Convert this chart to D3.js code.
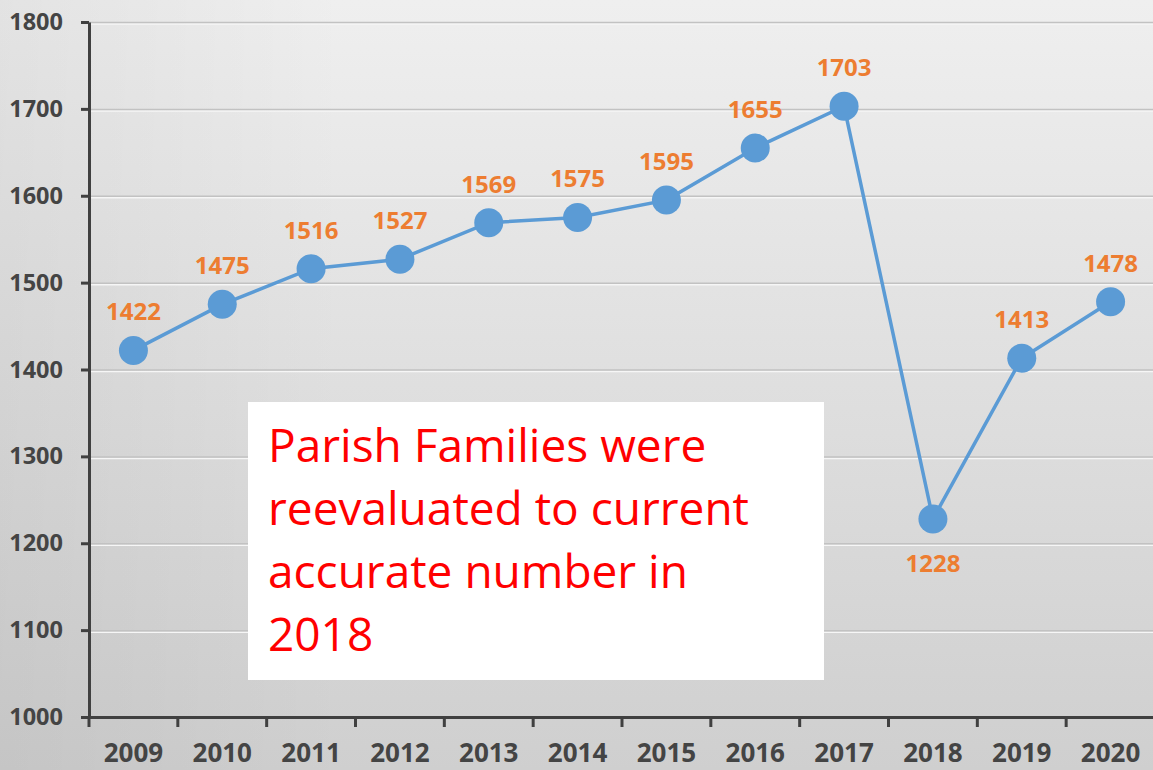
<!DOCTYPE html>
<html>
<head>
<meta charset="utf-8">
<script src="https://cdn.jsdelivr.net/npm/d3@7"></script>
<style>
  html, body { margin: 0; padding: 0; overflow: hidden; }
  svg { display: block; }
</style>
</head>
<body>
<div id="chart"></div>
<script>
const years = ["2009", "2010", "2011", "2012", "2013", "2014", "2015", "2016", "2017", "2018", "2019", "2020"];
const families = [1422, 1475, 1516, 1527, 1569, 1575, 1595, 1655, 1703, 1228, 1413, 1478];
const yTicks = [1000, 1100, 1200, 1300, 1400, 1500, 1600, 1700, 1800];
const noteLines = ["Parish Families were", "reevaluated to current", "accurate number in", "2018"];

const W = 1153, H = 770;
const svg = d3.select("#chart").append("svg").attr("width", W).attr("height", H);

// background gradient
const defs = svg.append("defs");
const grad = defs.append("linearGradient").attr("id", "bg").attr("x1", 0).attr("y1", 0).attr("x2", 0).attr("y2", 1);
grad.append("stop").attr("offset", "0%").attr("stop-color", "#efefef");
grad.append("stop").attr("offset", "100%").attr("stop-color", "#cfcfcf");
const side = defs.append("linearGradient").attr("id", "side").attr("x1", 0).attr("y1", 0).attr("x2", 1).attr("y2", 0);
side.append("stop").attr("offset", "0%").attr("stop-color", "#000").attr("stop-opacity", 0.05);
side.append("stop").attr("offset", "30%").attr("stop-color", "#000").attr("stop-opacity", 0);

svg.append("rect").attr("width", W).attr("height", H).attr("fill", "url(#bg)");
svg.append("rect").attr("width", W).attr("height", H).attr("fill", "url(#side)");

const x = d3.scaleBand().domain(years).range([89, 1155]);
const y = d3.scaleLinear().domain([1000, 1800]).range([717, 22]);

// gridlines
const yGrid = d3.axisLeft(y).tickValues(yTicks.slice(1)).tickSize(-(W - 89)).tickFormat("");
svg.append("g")
    .attr("transform", "translate(89, 1.5)")
    .call(yGrid)
    .call(g => g.select(".domain").remove())
    .call(g => g.selectAll("line").attr("stroke", "#f6f6f6").attr("stroke-width", 1.5));
svg.append("g")
    .attr("transform", "translate(89, 0)")
    .call(yGrid)
    .call(g => g.select(".domain").remove())
    .call(g => g.selectAll("line").attr("stroke", "#c2c2c2").attr("stroke-width", 1.5));

// y axis
svg.append("g")
    .attr("transform", "translate(89, 0)")
    .call(d3.axisLeft(y).tickValues(yTicks).tickFormat(d3.format("d")).tickSize(8).tickSizeOuter(0).tickPadding(18))
    .call(g => g.select(".domain").attr("stroke", "#404040").attr("stroke-width", 3))
    .call(g => g.selectAll("line").attr("stroke", "#404040").attr("stroke-width", 3))
    .call(g => g.selectAll("text")
        .attr("fill", "#444")
        .style("font-family", "'Open Sans', sans-serif")
        .style("font-weight", "bold")
        .style("font-size", "23.5px"));

// x axis
const xAxis = svg.append("g")
    .attr("transform", "translate(0, 717)")
    .call(d3.axisBottom(x).tickSize(0).tickSizeOuter(0).tickPadding(27))
    .call(g => g.select(".domain").attr("stroke", "#404040").attr("stroke-width", 3))
    .call(g => g.selectAll("text")
        .attr("fill", "#444")
        .style("font-family", "'Open Sans', sans-serif")
        .style("font-weight", "bold")
        .style("font-size", "26px"));
xAxis.selectAll(".sep")
    .data(years)
    .join("line")
    .attr("class", "sep")
    .attr("x1", d => x(d)).attr("x2", d => x(d))
    .attr("y1", 0).attr("y2", 10)
    .attr("stroke", "#404040").attr("stroke-width", 3);

// line + markers
const cx = (_, i) => x(years[i]) + x.bandwidth() / 2;
svg.append("path")
    .datum(families)
    .attr("fill", "none")
    .attr("stroke", "#5b9bd5")
    .attr("stroke-width", 3.5)
    .attr("d", d3.line().x(cx).y(d => y(d)));

svg.selectAll(".dot")
    .data(families)
    .join("circle")
    .attr("class", "dot")
    .attr("cx", cx)
    .attr("cy", d => y(d))
    .attr("r", 14.5)
    .attr("fill", "#5b9bd5");

svg.selectAll(".val")
    .data(families)
    .join("text")
    .attr("class", "val")
    .attr("x", cx)
    .attr("y", (d, i) => years[i] == "2018" ? y(d) + 53 : y(d) - 30)
    .attr("text-anchor", "middle")
    .attr("fill", "#ed7d31")
    .style("font-family", "'Open Sans', sans-serif")
    .style("font-weight", "bold")
    .style("font-size", "24px")
    .text(d => d);

// note box
svg.append("rect")
    .attr("x", 248).attr("y", 402)
    .attr("width", 576).attr("height", 278)
    .attr("fill", "#fff");

svg.selectAll(".note")
    .data(noteLines)
    .join("text")
    .attr("class", "note")
    .attr("x", 268)
    .attr("y", (_, i) => 462 + i * 63)
    .attr("fill", "#ff0000")
    .style("font-family", "'Open Sans', sans-serif")
    .style("font-size", "46px")
    .text(d => d);
</script>
</body>
</html>
